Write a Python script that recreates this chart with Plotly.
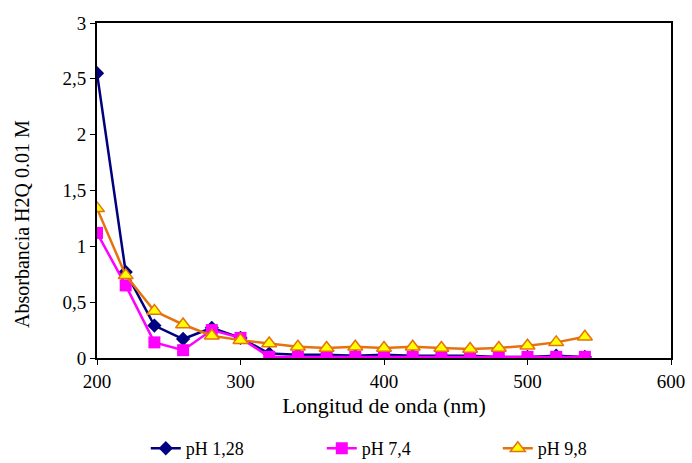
import plotly.graph_objects as go

wavelength = [200, 220, 240, 260, 280, 300, 320, 340, 360, 380, 400, 420, 440, 460, 480, 500, 520, 540]
ph_128 = [2.55, 0.77, 0.29, 0.17, 0.27, 0.18, 0.04, 0.03, 0.03, 0.02, 0.03, 0.02, 0.02, 0.02, 0.01, 0.01, 0.02, 0.01]
ph_74 = [1.12, 0.65, 0.14, 0.07, 0.25, 0.18, 0.01, 0.01, 0.01, 0.01, 0.01, 0.01, 0.01, 0.01, 0.01, 0.01, 0.01, 0.01]
ph_98 = [1.34, 0.74, 0.42, 0.30, 0.20, 0.16, 0.13, 0.10, 0.09, 0.10, 0.09, 0.10, 0.09, 0.08, 0.09, 0.11, 0.14, 0.19]

FONT = "Liberation Serif, Times New Roman, serif"

fig = go.Figure()
fig.add_trace(go.Scatter(x=wavelength, y=ph_128, name="pH 1,28", mode="lines+markers",
                         line=dict(color="#000080", width=2.5),
                         marker=dict(symbol="diamond", size=11, color="#000080")))
fig.add_trace(go.Scatter(x=wavelength, y=ph_74, name="pH 7,4", mode="lines+markers",
                         line=dict(color="#FF00FF", width=2.5),
                         marker=dict(symbol="square", size=12, color="#FF00FF")))
fig.add_trace(go.Scatter(x=wavelength, y=ph_98, name="pH 9,8", mode="lines+markers",
                         line=dict(color="#E6720F", width=2.5),
                         marker=dict(symbol="triangle-up", size=13, color="#FFFF00",
                                     line=dict(color="#E6720F", width=1.5))))

fig.add_annotation(text="Absorbancia H2Q 0.01 M", xref="paper", yref="paper",
                   x=-0.1307, y=0.40, textangle=-90, showarrow=False,
                   xanchor="center", yanchor="middle",
                   font=dict(family=FONT, size=20, color="black"))

fig.update_layout(
    width=692, height=463,
    margin=dict(l=97, r=21, t=23, b=105, autoexpand=False),
    paper_bgcolor="white", plot_bgcolor="white",
    font=dict(family=FONT, size=19, color="black"),
    separators=",.",
    showlegend=True,
    legend=dict(orientation="h", x=0.085, xanchor="left", y=-0.215, yanchor="top",
                font=dict(family=FONT, size=18), entrywidth=131, traceorder="normal",
                bgcolor="rgba(0,0,0,0)"),
    xaxis=dict(range=[200, 600], tickvals=[200, 300, 400, 500, 600], showgrid=False, zeroline=False,
               showline=True, linecolor="black", linewidth=2, mirror=True,
               ticks="outside", ticklen=5, tickcolor="black", tickfont=dict(size=19),
               title=dict(text="Longitud de onda (nm)", font=dict(family=FONT, size=22), standoff=7)),
    yaxis=dict(range=[0, 3], tickvals=[0, 0.5, 1, 1.5, 2, 2.5, 3], showgrid=False, zeroline=False,
               showline=True, linecolor="black", linewidth=2, mirror=True,
               ticks="outside", ticklen=5, tickcolor="black", tickfont=dict(size=19)),
)

fig.write_html("out.html")
